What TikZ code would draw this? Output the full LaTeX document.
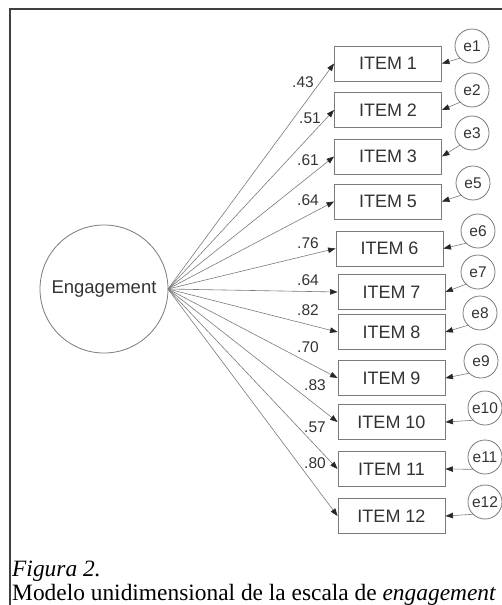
\documentclass[tikz,border=0pt]{standalone}
\usepackage{fontspec}
\setmainfont{Liberation Serif}
\newfontfamily\arial{Liberation Sans}
\usetikzlibrary{arrows.meta}
\definecolor{linegray}{HTML}{7A7A7A}
\definecolor{txtgray}{HTML}{333333}
\tikzset{
  itembox/.style={draw=linegray, line width=0.9pt, minimum width=107pt, minimum height=35pt, inner sep=0pt, font=\arial\fontsize{18}{18}\selectfont, text=txtgray},
  errc/.style={draw=linegray, line width=0.8pt, circle, minimum size=34pt, inner sep=0pt, font=\arial\fontsize{15.5}{15.5}\selectfont, text=txtgray},
  latent/.style={draw=linegray, line width=0.8pt, circle, minimum size=128pt, inner sep=0pt, font=\arial\fontsize{18.5}{18.5}\selectfont, text=txtgray},
  load/.style={draw=linegray, line width=0.6pt, -{Triangle[length=7.5pt,width=5.5pt,fill=black!85,color=black!85]}},
  lab/.style={font=\arial\fontsize{15.5}{15.5}\selectfont, text=txtgray, inner sep=0pt},
  frame/.style={draw=black!75, line width=1.3pt}
}
\begin{document}
\begin{tikzpicture}[x=1pt,y=-1pt]
\useasboundingbox (0,0) rectangle (502,605);
\draw[frame] (10,605) -- (10,9) -- (503,9);
\node[latent] (eng) at (104,289) {Engagement};
\coordinate (src) at (168,289);
% items
\foreach \n/\x/\y in {1/388/63.5, 2/388/110, 3/388/156.5, 5/388/201.5, 6/389.5/248.5, 7/391.5/292, 8/391.5/332, 9/391.5/378, 10/391.5/422, 11/391.5/469, 12/391.5/516}
  \node[itembox] (i\n) at (\x,\y) {ITEM \n};
% errors
\foreach \n/\x/\y in {1/472/46, 2/472/90, 3/472/133, 5/473/183, 6/478/231, 7/478/272, 8/480/313, 9/481/361, 10/485/408, 11/485/457, 12/485/502}
  \node[errc] (e\n) at (\x,\y) {e\n};
% loadings
\foreach \n in {1,2,3,5,6,7,8,9,10,11,12}
  \draw[load] (src) -- (i\n.west);
\foreach \n in {1,2,3,5,6,7,8,9,10,11,12}
  \draw[load] (e\n.225) -- (i\n.east);
% labels
\node[lab] (l1) at (303,82) {.43};
\node[lab] (l2) at (310,118) {.51};
\node[lab] (l3) at (308,160) {.61};
\node[lab] (l5) at (308,200) {.64};
\node[lab] (l6) at (308,243) {.76};
\node[lab] (l7) at (308,280) {.64};
\node[lab] (l8) at (308,310) {.82};
\node[lab] (l9) at (308,347) {.70};
\node[lab] (l10) at (315,385) {.83};
\node[lab] (l11) at (315,427) {.57};
\node[lab] (l12) at (315,463) {.80};
% caption
\node[anchor=base west, inner sep=0pt, font=\fontsize{23.4}{23.4}\selectfont\itshape] (cap1) at (12,576) {Figura 2.};
\node[anchor=base west, inner sep=0pt, font=\fontsize{23.4}{23.4}\selectfont] (cap2) at (12,600) {Modelo unidimensional de la escala de \textit{engagement}};
\end{tikzpicture}
\end{document}
